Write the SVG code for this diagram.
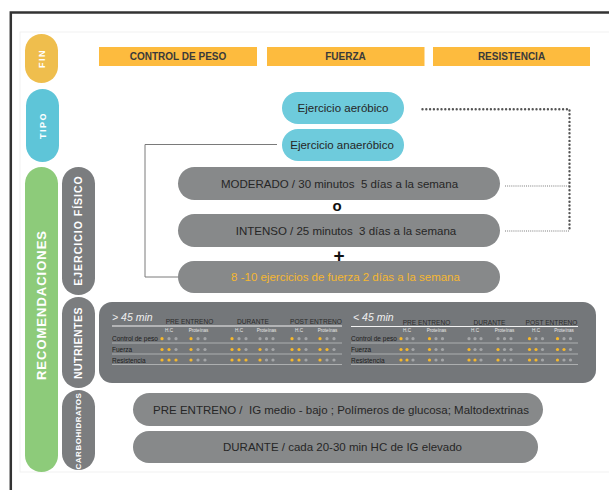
<svg xmlns="http://www.w3.org/2000/svg" width="609" height="490" viewBox="0 0 609 490">
<style>
text{font-family:"Liberation Sans",Arial,sans-serif;white-space:pre}
.vl{fill:#fff;font-weight:bold;text-anchor:middle}
.hdr{fill:#3a3a3a;font-size:10px;font-weight:bold;text-anchor:middle}
.pt{fill:#262626;font-size:11.5px;text-anchor:middle}
.gp{fill:#87898a}
.side{fill:#7b7d7f}
.th{fill:#2b2b2b;font-size:6.6px;text-anchor:middle}
.sh{fill:#e6e6e6;font-size:4.6px;text-anchor:middle}
.rl{fill:#1c1c1c;font-size:6.5px}
.y{fill:#f6b82c}
.g{fill:#a4a6a8}
.rowline{stroke:#b3b5b7;stroke-width:0.9}
.topline{stroke:#f2f2f2;stroke-width:1.2}
.dotb{fill:none;stroke:#555;stroke-width:2.4;stroke-linecap:round;stroke-dasharray:0 3.8}
.dots{fill:none;stroke:#7a7a7a;stroke-width:1.2;stroke-dasharray:1 1.1}
</style>
<rect width="609" height="490" fill="#fff"/>
<path d="M10.8 490 V12.5 H609" fill="none" stroke="#333" stroke-width="2.5"/>
<rect x="20" y="32" width="600" height="440" fill="#fff" stroke="#f1f1f1" stroke-width="1"/>

<g id="fin"><rect x="25" y="34" width="33" height="49" rx="16.5" fill="#efbe4d"/><text class="vl" font-size="9" letter-spacing="1.5" transform="translate(41.5,58.5) rotate(-90)" y="3.2">FIN</text></g>
<g id="control-de-peso"><rect x="99" y="47" width="158" height="19" fill="#fdbb3e"/><text class="hdr" x="178" y="60.3">CONTROL DE PESO</text></g>
<g id="fuerza"><rect x="267" y="47" width="157.5" height="19" fill="#fdbb3e"/><text class="hdr" x="345.5" y="60.3">FUERZA</text></g>
<g id="resistencia"><rect x="433" y="47" width="157" height="19" fill="#fdbb3e"/><text class="hdr" x="511.5" y="60.3">RESISTENCIA</text></g>

<g id="tipo"><rect x="26" y="89" width="33" height="73" rx="16.5" fill="#5ec5d8"/><text class="vl" font-size="9" letter-spacing="1.5" transform="translate(42.5,125.5) rotate(-90)" y="3.2">TIPO</text></g>

<g id="connectors">
<path class="dotb" d="M422.5 109.3 H569.5 V231"/>
<path class="dots" d="M505 186 H569"/>
<path class="dots" d="M505 231 H569"/>
<path d="M277 144.5 H145 V277 H178" fill="none" stroke="#7a7a7a" stroke-width="1"/>
</g>

<g id="aerobico"><rect x="282" y="92" width="122" height="32" rx="16" fill="#6ecbdc"/><text class="pt" x="343" y="112">Ejercicio aeróbico</text></g>
<g id="anaerobico"><rect x="282" y="129" width="122" height="32" rx="16" fill="#6ecbdc"/><text class="pt" x="342" y="149">Ejercicio anaeróbico</text></g>

<g id="recomendaciones"><rect x="25" y="167" width="33" height="305" rx="16.5" fill="#8dcb7a"/><text class="vl" font-size="13" letter-spacing="1" transform="translate(41.5,305) rotate(-90)" y="4.7">RECOMENDACIONES</text></g>
<g id="ejercicio-fisico"><rect x="62" y="167" width="33" height="128" rx="16.5" class="side"/><text class="vl" font-size="10.5" letter-spacing="1" transform="translate(78.5,230.5) rotate(-90)" y="3.8">EJERCICIO FÍSICO</text></g>
<g id="nutrientes"><rect x="62" y="297" width="33" height="91" rx="16.5" class="side"/><text class="vl" font-size="10.5" letter-spacing="0.5" transform="translate(78.5,343) rotate(-90)" y="3.8">NUTRIENTES</text></g>
<g id="carbohidratos"><rect x="62" y="390" width="33" height="80" rx="16.5" class="side"/><text class="vl" font-size="8" letter-spacing="0.5" transform="translate(78.5,431) rotate(-90)" y="2.9">CARBOHIDRATOS</text></g>

<g id="moderado"><rect x="178" y="167" width="322" height="33" rx="16.5" class="gp"/><text class="pt" x="339.5" y="188" xml:space="preserve">MODERADO / 30 minutos  5 días a la semana</text></g>
<text x="337" y="211" font-size="15" font-weight="bold" fill="#111" text-anchor="middle">o</text>
<g id="intenso"><rect x="178" y="214" width="322" height="33" rx="16.5" class="gp"/><text class="pt" x="346" y="234.5" xml:space="preserve">INTENSO / 25 minutos  3 días a la semana</text></g>
<text x="339" y="262" font-size="19" font-weight="bold" fill="#111" text-anchor="middle">+</text>
<g id="fuerza-ejercicios"><rect x="178" y="261" width="322" height="32" rx="16" class="gp"/><text class="pt" x="345.5" y="281" style="fill:#f5b731">8 -10 ejercicios de fuerza 2 días a la semana</text></g>

<g id="nutrientes-tabla">
<rect x="99" y="302" width="497" height="81" rx="13" fill="#74777a"/>
<text x="112" y="321" font-size="10.5" font-style="italic" fill="#efefef">&gt; 45 min</text>
<text x="353" y="321" font-size="10.5" font-style="italic" fill="#efefef">&lt; 45 min</text>
<text class="th" x="189.5" y="324">PRE ENTRENO</text>
<text class="th" x="253" y="324">DURANTE</text>
<text class="th" x="316" y="324">POST ENTRENO</text>
<text class="th" x="426.5" y="324.5">PRE ENTRENO</text>
<text class="th" x="489.5" y="324.5">DURANTE</text>
<text class="th" x="551.5" y="324.5">POST ENTRENO</text>
<line class="topline" x1="112" y1="326" x2="342" y2="326"/>
<line class="topline" x1="351" y1="326.5" x2="578" y2="326.5"/>
<g class="sh">
<text x="169" y="331.5">H.C</text><text x="198.5" y="331.5">Proteínas</text>
<text x="239" y="331.5">H.C</text><text x="266.5" y="331.5">Proteínas</text>
<text x="299" y="331.5">H.C</text><text x="327.5" y="331.5">Proteínas</text>
<text x="407" y="331.5">H.C</text><text x="436.5" y="331.5">Proteínas</text>
<text x="475" y="331.5">H.C</text><text x="504.5" y="331.5">Proteínas</text>
<text x="536" y="331.5">H.C</text><text x="564" y="331.5">Proteínas</text>
</g>
<text class="rl" x="112" y="341">Control de peso</text>
<text class="rl" x="112" y="352">Fuerza</text>
<text class="rl" x="112" y="362.5">Resistencia</text>
<text class="rl" x="351" y="341">Control de peso</text>
<text class="rl" x="351" y="352">Fuerza</text>
<text class="rl" x="351" y="362.5">Resistencia</text>
<line class="rowline" x1="112" y1="343" x2="342" y2="343"/>
<line class="rowline" x1="112" y1="354" x2="342" y2="354"/>
<line class="rowline" x1="112" y1="364.5" x2="342" y2="364.5"/>
<line class="rowline" x1="351" y1="343" x2="578" y2="343"/>
<line class="rowline" x1="351" y1="354" x2="578" y2="354"/>
<line class="rowline" x1="351" y1="364.5" x2="578" y2="364.5"/>
<g id="dots-left">
<circle class="y" cx="162" cy="338.7" r="1.6"/><circle class="g" cx="169" cy="338.7" r="1.6"/><circle class="g" cx="176" cy="338.7" r="1.6"/>
<circle class="y" cx="191" cy="338.7" r="1.6"/><circle class="g" cx="198" cy="338.7" r="1.6"/><circle class="g" cx="205" cy="338.7" r="1.6"/>
<circle class="y" cx="232" cy="338.7" r="1.6"/><circle class="g" cx="239" cy="338.7" r="1.6"/><circle class="g" cx="246" cy="338.7" r="1.6"/>
<circle class="g" cx="260" cy="338.7" r="1.6"/><circle class="g" cx="266.5" cy="338.7" r="1.6"/><circle class="g" cx="273" cy="338.7" r="1.6"/>
<circle class="y" cx="292" cy="338.7" r="1.6"/><circle class="g" cx="299" cy="338.7" r="1.6"/><circle class="g" cx="306" cy="338.7" r="1.6"/>
<circle class="y" cx="320" cy="338.7" r="1.6"/><circle class="g" cx="327" cy="338.7" r="1.6"/><circle class="g" cx="334" cy="338.7" r="1.6"/>

<circle class="y" cx="162" cy="349.5" r="1.6"/><circle class="y" cx="169" cy="349.5" r="1.6"/><circle class="g" cx="176" cy="349.5" r="1.6"/>
<circle class="y" cx="191" cy="349.5" r="1.6"/><circle class="g" cx="198" cy="349.5" r="1.6"/><circle class="g" cx="205" cy="349.5" r="1.6"/>
<circle class="y" cx="232" cy="349.5" r="1.6"/><circle class="y" cx="239" cy="349.5" r="1.6"/><circle class="g" cx="246" cy="349.5" r="1.6"/>
<circle class="y" cx="260" cy="349.5" r="1.6"/><circle class="g" cx="266.5" cy="349.5" r="1.6"/><circle class="g" cx="273" cy="349.5" r="1.6"/>
<circle class="y" cx="292" cy="349.5" r="1.6"/><circle class="y" cx="299" cy="349.5" r="1.6"/><circle class="g" cx="306" cy="349.5" r="1.6"/>
<circle class="y" cx="320" cy="349.5" r="1.6"/><circle class="y" cx="327" cy="349.5" r="1.6"/><circle class="g" cx="334" cy="349.5" r="1.6"/>

<circle class="y" cx="162" cy="360" r="1.6"/><circle class="y" cx="169" cy="360" r="1.6"/><circle class="y" cx="176" cy="360" r="1.6"/>
<circle class="y" cx="191" cy="360" r="1.6"/><circle class="g" cx="198" cy="360" r="1.6"/><circle class="g" cx="205" cy="360" r="1.6"/>
<circle class="y" cx="232" cy="360" r="1.6"/><circle class="y" cx="239" cy="360" r="1.6"/><circle class="y" cx="246" cy="360" r="1.6"/>
<circle class="y" cx="260" cy="360" r="1.6"/><circle class="g" cx="266.5" cy="360" r="1.6"/><circle class="g" cx="273" cy="360" r="1.6"/>
<circle class="y" cx="292" cy="360" r="1.6"/><circle class="y" cx="299" cy="360" r="1.6"/><circle class="g" cx="306" cy="360" r="1.6"/>
<circle class="y" cx="320" cy="360" r="1.6"/><circle class="g" cx="327" cy="360" r="1.6"/><circle class="g" cx="334" cy="360" r="1.6"/>
</g>
<g id="dots-right">
<circle class="y" cx="401" cy="338.7" r="1.6"/><circle class="g" cx="407" cy="338.7" r="1.6"/><circle class="g" cx="413" cy="338.7" r="1.6"/>
<circle class="y" cx="429.5" cy="338.7" r="1.6"/><circle class="g" cx="436" cy="338.7" r="1.6"/><circle class="g" cx="442.5" cy="338.7" r="1.6"/>
<circle class="g" cx="469" cy="338.7" r="1.6"/><circle class="g" cx="475" cy="338.7" r="1.6"/><circle class="g" cx="481" cy="338.7" r="1.6"/>
<circle class="g" cx="498" cy="338.7" r="1.6"/><circle class="g" cx="504.5" cy="338.7" r="1.6"/><circle class="g" cx="511" cy="338.7" r="1.6"/>
<circle class="y" cx="529.5" cy="338.7" r="1.6"/><circle class="g" cx="536" cy="338.7" r="1.6"/><circle class="g" cx="542.5" cy="338.7" r="1.6"/>
<circle class="y" cx="557.5" cy="338.7" r="1.6"/><circle class="g" cx="564" cy="338.7" r="1.6"/><circle class="g" cx="570.5" cy="338.7" r="1.6"/>

<circle class="y" cx="401" cy="349.5" r="1.6"/><circle class="y" cx="407" cy="349.5" r="1.6"/><circle class="g" cx="413" cy="349.5" r="1.6"/>
<circle class="y" cx="429.5" cy="349.5" r="1.6"/><circle class="g" cx="436" cy="349.5" r="1.6"/><circle class="g" cx="442.5" cy="349.5" r="1.6"/>
<circle class="y" cx="469" cy="349.5" r="1.6"/><circle class="g" cx="475" cy="349.5" r="1.6"/><circle class="g" cx="481" cy="349.5" r="1.6"/>
<circle class="y" cx="498" cy="349.5" r="1.6"/><circle class="g" cx="504.5" cy="349.5" r="1.6"/><circle class="g" cx="511" cy="349.5" r="1.6"/>
<circle class="y" cx="529.5" cy="349.5" r="1.6"/><circle class="y" cx="536" cy="349.5" r="1.6"/><circle class="g" cx="542.5" cy="349.5" r="1.6"/>
<circle class="y" cx="557.5" cy="349.5" r="1.6"/><circle class="y" cx="564" cy="349.5" r="1.6"/><circle class="g" cx="570.5" cy="349.5" r="1.6"/>

<circle class="y" cx="401" cy="360" r="1.6"/><circle class="y" cx="407" cy="360" r="1.6"/><circle class="g" cx="413" cy="360" r="1.6"/>
<circle class="y" cx="429.5" cy="360" r="1.6"/><circle class="g" cx="436" cy="360" r="1.6"/><circle class="g" cx="442.5" cy="360" r="1.6"/>
<circle class="y" cx="469" cy="360" r="1.6"/><circle class="y" cx="475" cy="360" r="1.6"/><circle class="g" cx="481" cy="360" r="1.6"/>
<circle class="y" cx="498" cy="360" r="1.6"/><circle class="g" cx="504.5" cy="360" r="1.6"/><circle class="g" cx="511" cy="360" r="1.6"/>
<circle class="y" cx="529.5" cy="360" r="1.6"/><circle class="y" cx="536" cy="360" r="1.6"/><circle class="g" cx="542.5" cy="360" r="1.6"/>
<circle class="y" cx="557.5" cy="360" r="1.6"/><circle class="g" cx="564" cy="360" r="1.6"/><circle class="g" cx="570.5" cy="360" r="1.6"/>
</g>
</g>

<g id="pre-entreno-hc"><rect x="133" y="393" width="410" height="33" rx="16.5" class="gp"/><text class="pt" x="341" y="413.5" xml:space="preserve">PRE ENTRENO /  IG medio - bajo ; Polímeros de glucosa; Maltodextrinas</text></g>
<g id="durante-hc"><rect x="133" y="431" width="405" height="32" rx="16" class="gp"/><text class="pt" x="342.5" y="451">DURANTE / cada 20-30 min HC de IG elevado</text></g>
</svg>
